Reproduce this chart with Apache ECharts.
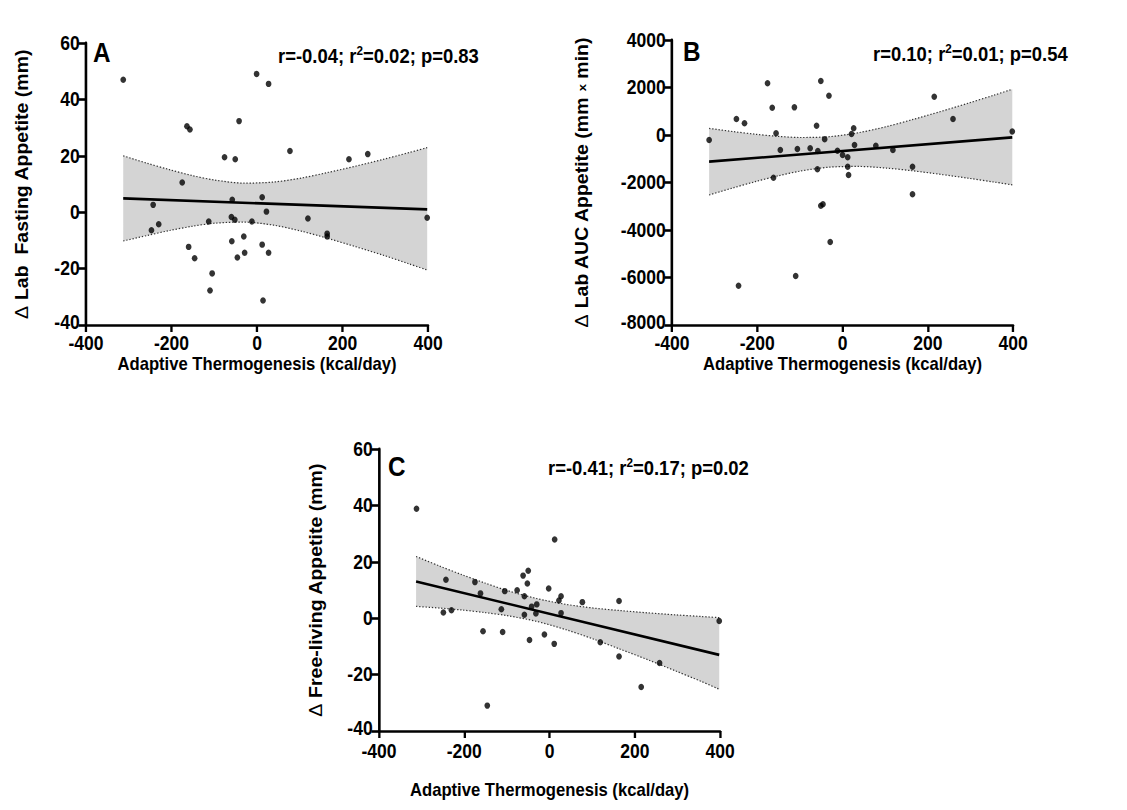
<!DOCTYPE html>
<html><head><meta charset="utf-8">
<script src="https://cdn.jsdelivr.net/npm/echarts@6/dist/echarts.min.js"></script>
<style>
html,body{margin:0;padding:0;background:#fff;overflow:hidden}
#wrap{width:1127px;height:810px;overflow:hidden;position:relative}
#c{width:1253px;height:810px;transform:scaleX(0.9);transform-origin:0 0;position:absolute;left:0;top:0}
</style>
</head><body><div id="wrap"><div id="c"></div></div>
<script>
// ---- data ----
const xTickValues = [-400, -200, 0, 200, 400];
const aPts = [[-313,47.0],[-1,49.0],[27,45.5],[-164,30.5],[-157,29.3],[-42,32.3],[-76,19.5],[-51,18.8],[77,21.7],[215,18.8],[259,20.6],[-175,10.5],[-243,2.6],[-58,4.4],[12,5.3],[22,0.2],[-230,-4.3],[-247,-6.4],[-113,-3.3],[-60,-1.7],[-52,-2.7],[-12,-3.3],[119,-2.2],[164,-7.6],[164,-8.6],[-160,-12.3],[-146,-16.3],[-59,-10.3],[-31,-8.6],[-46,-16.1],[-29,-14.4],[12,-11.5],[27,-14.4],[-105,-21.7],[-110,-27.8],[14,-31.3],[398,-2.0]];
const bPts = [[-313,-210],[-249,674],[-230,492],[-176,2175],[-165,1151],[-156,70],[-162,-1797],[-146,-632],[-113,1164],[-106,-590],[-76,-562],[-61,393],[-58,-674],[-59,-1446],[-51,2274],[-42,-182],[-32,1656],[-51,-2975],[-46,-2918],[-29,-4505],[-110,-5937],[-12,-659],[0,-842],[12,-940],[12,-1333],[14,-1684],[21,42],[26,281],[28,-421],[78,-450],[118,-632],[164,-1333],[164,-2497],[215,1613],[259,674],[398,150],[-244,-6345]];
const cPts = [[-312,38.8],[12,27.9],[-243,13.6],[-175,12.8],[-162,8.8],[-249,2.0],[-230,2.8],[-105,9.6],[-113,3.2],[-76,9.9],[-62,15.1],[-50,16.8],[-52,12.3],[-59,7.8],[-42,4.1],[-30,4.9],[-59,1.2],[-32,1.7],[-2,10.5],[22,6.3],[27,7.8],[27,1.8],[77,5.7],[163,6.1],[-156,-4.6],[-110,-4.9],[-47,-7.7],[-12,-5.8],[11,-9.1],[119,-8.5],[163,-13.6],[258,-15.9],[215,-24.4],[-146,-31.0],[398,-1.0]];
const aFit = [[-313,4.9],[398,1.0]];
const bFit = [[-313,-1123],[398,-100]];
const cFit = [[-313,13.0],[398,-13.0]];
const bandX  = [-313,-258,-205,-152,-99,-31,39,103,166,230,294,357,398];
const aUpper = [20.0,17.4,15.1,13.0,11.4,10.3,10.7,12.1,14.1,16.3,18.7,21.2,22.9];
const aLower = [-10.2,-8.3,-6.5,-5.0,-3.9,-3.5,-4.6,-6.7,-9.3,-12.2,-15.2,-18.4,-20.5];
const bUpper = [279,147,34,-55,-105,-72,102,355,659,989,1335,1688,1927];
const bLower = [-2525,-2233,-1966,-1723,-1519,-1354,-1324,-1393,-1511,-1657,-1817,-1986,-2101];
const cUpper = [21.9,18.5,15.4,12.5,9.8,7.0,4.9,3.6,2.7,1.9,1.2,0.6,0.2];
const cLower = [4.2,3.6,2.9,2.0,0.9,-1.1,-4.1,-7.4,-11.0,-14.7,-18.6,-22.5,-25.2];
const statA = ['r=-0.04; r', '2', '=0.02; p=0.83'];
const statB = ['r=0.10; r', '2', '=0.01; p=0.54'];
const statC = ['r=-0.41; r', '2', '=0.17; p=0.02'];
const xTitle = 'Adaptive Thermogenesis (kcal/day)';

// ---- chart ----
const FF = '"Liberation Sans", Arial, sans-serif';
const chart = echarts.init(document.getElementById('c'), null, {renderer: 'svg', width: 1253, height: 810});
const LBL = 19.5, TTL = 19.5, XTTL = 18.5;

function xAxis(gi, gap, margin) {
  return {
    type: 'value', gridIndex: gi, min: -400, max: 400, interval: 200,
    name: xTitle, nameLocation: 'middle', nameGap: gap,
    nameTextStyle: {fontFamily: FF, fontWeight: 'bold', fontSize: XTTL, color: '#000'},
    axisLine: {onZero: false, lineStyle: {color: '#000', width: 2.6}},
    axisTick: {length: 7, lineStyle: {color: '#000', width: 2.6}},
    axisLabel: {fontFamily: FF, fontWeight: 'bold', fontSize: LBL, color: '#000', margin: margin,
      customValues: xTickValues, formatter: v => String(v)},
    splitLine: {show: false}
  };
}
function yAxis(gi, min, max, interval, name, gap) {
  return {
    type: 'value', gridIndex: gi, min: min, max: max, interval: interval,
    name: name, nameLocation: 'middle', nameGap: gap,
    nameTextStyle: {fontFamily: FF, fontWeight: 'bold', fontSize: TTL, color: '#000',
      rich: {d: {fontFamily: FF, fontWeight: 'normal', fontSize: TTL, color: '#000'},
             s: {fontFamily: FF, fontWeight: 'bold', fontSize: 13, color: '#000'}}},
    axisLine: {onZero: false, lineStyle: {color: '#000', width: 2.9}},
    axisTick: {length: 8.5, lineStyle: {color: '#000', width: 2.6}},
    axisLabel: {fontFamily: FF, fontWeight: 'bold', fontSize: LBL, color: '#000', margin: 7,
      formatter: v => (v === min ? '{m|' + v + '}' : String(v)),
      rich: {m: {fontFamily: FF, fontWeight: 'bold', fontSize: LBL, color: '#000', padding: [0, 0, 6, 0]}}},
    splitLine: {show: false}
  };
}
function bandSeries(gi, up, lo) {
  return {
    type: 'custom', xAxisIndex: gi, yAxisIndex: gi, z: 1, silent: true,
    data: [[bandX[0], up[0]]],
    renderItem: function (params, api) {
      const pts = [];
      for (let i = 0; i < bandX.length; i++) pts.push(api.coord([bandX[i], up[i]]));
      for (let i = bandX.length - 1; i >= 0; i--) pts.push(api.coord([bandX[i], lo[i]]));
      return {type: 'polygon', shape: {points: pts}, style: {fill: '#d4d4d4', stroke: null}};
    }
  };
}
function edge(gi, vals) {
  return {type: 'line', xAxisIndex: gi, yAxisIndex: gi, z: 2, silent: true, symbol: 'none',
    smooth: 0.3, data: bandX.map((x, i) => [x, vals[i]]),
    lineStyle: {color: '#333', width: 1.2, type: [1.5, 2]}};
}
function fit(gi, d) {
  return {type: 'line', xAxisIndex: gi, yAxisIndex: gi, z: 3, silent: true, symbol: 'none',
    data: d, lineStyle: {color: '#000', width: 2.6}};
}
function dots(gi, d) {
  return {type: 'scatter', xAxisIndex: gi, yAxisIndex: gi, z: 4, silent: true,
    symbol: 'circle', symbolSize: 6.4, data: d, itemStyle: {color: '#000'}};
}
function stat(x, y, parts) {
  return {type: 'text', x: x, y: y, z: 10,
    style: {text: '{n|' + parts[0] + '}{s|' + parts[1] + '}{n|' + parts[2] + '}',
      rich: {n: {fontFamily: FF, fontWeight: 'bold', fontSize: 20.5, color: '#000', lineHeight: 22, verticalAlign: 'bottom'},
             s: {fontFamily: FF, fontWeight: 'bold', fontSize: 13, color: '#000', lineHeight: 22, verticalAlign: 'top'}}}};
}
function letter(x, y, t) {
  return {type: 'text', x: x, y: y, z: 10,
    style: {text: t, fontFamily: FF, fontWeight: 'bold', fontSize: 27, fill: '#000'}};
}

chart.setOption({
  animation: false,
  backgroundColor: '#fff',
  grid: [
    {left: 95.6, top: 43, width: 380, height: 282},
    {left: 746.7, top: 40, width: 379, height: 285},
    {left: 421.1, top: 449, width: 379, height: 282}
  ],
  xAxis: [xAxis(0, 23, 8), xAxis(1, 23, 8), xAxis(2, 49, 10)],
  yAxis: [
    yAxis(0, -40, 60, 20, '{d|Δ} Lab  Fasting Appetite (mm)', 61),
    yAxis(1, -8000, 4000, 2000, '{d|Δ} Lab AUC Appetite (mm {s|x} min)', 90),
    yAxis(2, -40, 60, 20, '{d|Δ} Free-living Appetite (mm)', 60)
  ],
  series: [
    bandSeries(0, aUpper, aLower), edge(0, aUpper), edge(0, aLower), fit(0, aFit), dots(0, aPts),
    bandSeries(1, bUpper, bLower), edge(1, bUpper), edge(1, bLower), fit(1, bFit), dots(1, bPts),
    bandSeries(2, cUpper, cLower), edge(2, cUpper), edge(2, cLower), fit(2, cFit), dots(2, cPts)
  ],
  graphic: [
    letter(103.3, 39, 'A'), letter(758.9, 38, 'B'), letter(431, 453, 'C'),
    stat(308.9, 44, statA), stat(970, 42, statB), stat(608.9, 456, statC)
  ]
});
</script>
</body></html>
